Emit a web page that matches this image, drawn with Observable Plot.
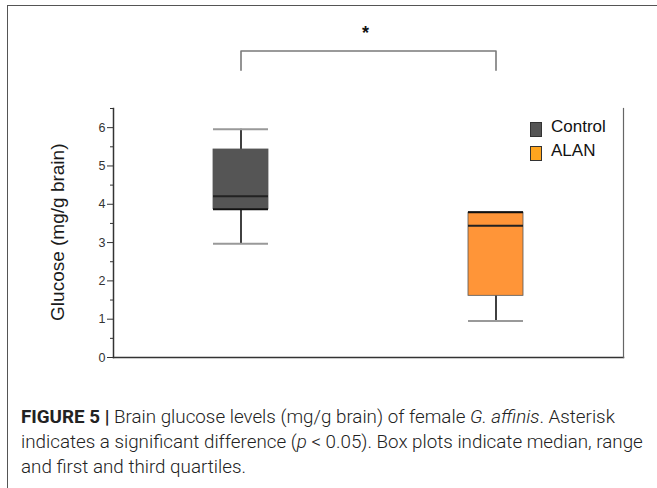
<!DOCTYPE html>
<html>
<head>
<meta charset="utf-8">
<script src="https://cdn.jsdelivr.net/npm/d3@7"></script>
<script src="https://cdn.jsdelivr.net/npm/@observablehq/plot@0.6"></script>
<style>
  body { margin: 0; background: #fff; }
  #wrap { position: relative; width: 657px; height: 488px; overflow: hidden; background: #fff; }
  #frame { position: absolute; left: 7px; top: 5px; width: 800px; height: 700px;
           border-left: 1.5px solid #555; border-top: 1.5px solid #555; }
  #chart { position: absolute; left: 0; top: 0; }
  .leg { position: absolute; font-family: "Liberation Sans", Arial, sans-serif; font-size: 17px; color: #111; }
  .sw { position: absolute; width: 10px; height: 13px; border: 1px solid #333; }
  #caption { position: absolute; left: 21px; top: 405px; width: 640px;
             font-family: Roboto, "Liberation Sans", sans-serif; font-weight: 300;
             font-size: 18.8px; line-height: 25px; color: #222; white-space: nowrap; }
  #caption b { font-weight: 700; }
</style>
</head>
<body>
<div id="wrap">
  <div id="frame"></div>
  <div id="chart"></div>
  <div id="legend"></div>
  <div id="caption">
    <b>FIGURE 5 |</b> Brain glucose levels (mg/g brain) of female <i>G. affinis</i>. Asterisk<br>
    indicates a significant difference (<i>p</i> &lt; 0.05). Box plots indicate median, range<br>
    and first and third quartiles.
  </div>
</div>
<script>
// ---- data ----
const groups = ["Control", "ALAN"];
const whiskerMin = [2.97, 0.95];
const q1 = [3.87, 1.61];
const median = [4.21, 3.44];
const q3 = [5.43, 3.78];
const whiskerMax = [5.96, 3.80];
const darkEdge = [3.87, 3.79];
const fills = ["#555555", "#FF9538"];
const legendFills = ["#555555", "#FFA51F"];
const yTicks = [0, 1, 2, 3, 4, 5, 6];
const yMinorTicks = [0.5, 1.5, 2.5, 3.5, 4.5, 5.5, 6.5];
const yLabel = "Glucose (mg/g brain)";
const sigPair = ["Control", "ALAN"];
const sigLow = 7.5;
const sigHigh = 8.0;
const sigMark = "*";
const sigMarkY = 8.66;

const boxes = groups.map((g, i) => ({
  group: g, min: whiskerMin[i], q1: q1[i], median: median[i], q3: q3[i],
  max: whiskerMax[i], edge: darkEdge[i], fill: fills[i]
}));
const bracket = [
  {x: sigPair[0], y: sigLow}, {x: sigPair[0], y: sigHigh},
  {x: sigPair[1], y: sigHigh}, {x: sigPair[1], y: sigLow}
];

const plot = Plot.plot({
  width: 657,
  height: 385,
  marginTop: 108,
  marginBottom: 28,
  marginLeft: 113,
  marginRight: 34,
  style: {background: "transparent", fontFamily: "'Liberation Sans', Arial, sans-serif"},
  x: {type: "band", domain: groups, paddingInner: 0.784, paddingOuter: 0.392, axis: null},
  y: {domain: [0, 6.5], axis: null},
  marks: [
    Plot.frame({anchor: "left", stroke: "#333", strokeWidth: 1.5}),
    Plot.frame({anchor: "bottom", stroke: "#333", strokeWidth: 1.5}),
    Plot.frame({anchor: "right", stroke: "#666", strokeWidth: 1.2}),
    Plot.axisY({ticks: yTicks, tickFormat: d => String(d), tickSize: 6, tickPadding: 2, fontSize: 12.5, label: null, stroke: "#333", fill: "#333"}),
    Plot.axisY({ticks: yMinorTicks, tickSize: 3, text: null, label: null, stroke: "#333"}),
    Plot.text([yLabel], {frameAnchor: "left", y: [3.27], dx: -56, rotate: -90, textAnchor: "middle", fontSize: 19, fill: "#1a1a1a", text: d => d}),
    Plot.ruleX(boxes, {x: "group", y1: "min", y2: "q1", stroke: "#111", strokeWidth: 1.6}),
    Plot.ruleX(boxes, {x: "group", y1: "q3", y2: "max", stroke: "#111", strokeWidth: 1.6}),
    Plot.tickY(boxes, {x: "group", y: "min", stroke: "#999", strokeWidth: 2}),
    Plot.tickY(boxes, {x: "group", y: "max", stroke: "#999", strokeWidth: 2}),
    Plot.barY(boxes, {x: "group", y1: "q1", y2: "q3", fill: "fill", stroke: "#555", strokeWidth: 0.8}),
    Plot.tickY(boxes, {x: "group", y: "edge", stroke: "#111", strokeWidth: 2}),
    Plot.tickY(boxes, {x: "group", y: "median", stroke: "#222", strokeWidth: 2}),
    Plot.line(bracket, {x: "x", y: "y", stroke: "#7a7a7a", strokeWidth: 1.6, strokeLinejoin: "round"}),
    Plot.text([sigMark], {frameAnchor: "top", y: [sigMarkY], text: d => d, fontSize: 18, fontWeight: "bold", fill: "#111", dx: -3})
  ]
});
document.getElementById("chart").appendChild(plot);

// legend
const legend = document.getElementById("legend");
groups.forEach((g, i) => {
  const sw = document.createElement("div");
  sw.className = "sw";
  sw.style.left = "530px";
  sw.style.top = (122 + i * 24) + "px";
  sw.style.background = legendFills[i];
  legend.appendChild(sw);
  const t = document.createElement("div");
  t.className = "leg";
  t.style.left = "551px";
  t.style.top = (117 + i * 24) + "px";
  t.textContent = g;
  legend.appendChild(t);
});
</script>
</body>
</html>
